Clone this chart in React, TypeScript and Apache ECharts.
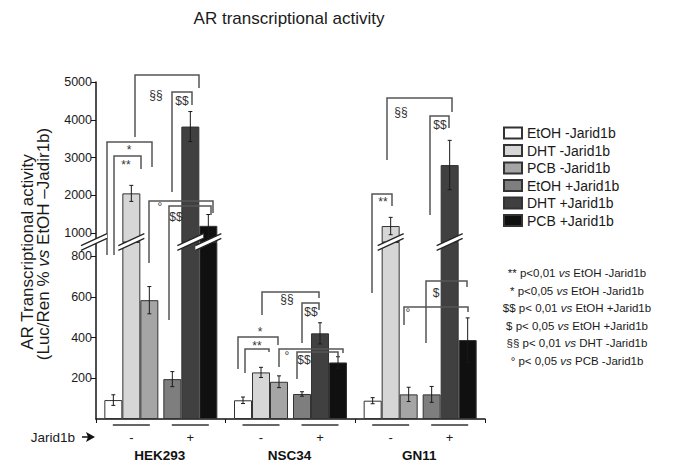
import React, { useEffect, useRef } from 'react';
import * as echarts from 'echarts';

// ---------- data ----------
const cellLines = ['HEK293', 'NSC34', 'GN11'];
const seriesNames = ['EtOH -Jarid1b', 'DHT -Jarid1b', 'PCB -Jarid1b', 'EtOH +Jarid1b', 'DHT +Jarid1b', 'PCB +Jarid1b'];
const etohMinus = [93, 92, 90];
const dhtMinus = [2050, 229, 1185];
const pcbMinus = [584, 183, 121];
const etohPlus = [196, 123, 121];
const dhtPlus = [3820, 421, 2800];
const pcbPlus = [1190, 278, 388];
const etohMinusErr = [26, 16, 15];
const dhtMinusErr = [212, 25, 230];
const pcbMinusErr = [67, 29, 35];
const etohPlusErr = [37, 11, 39];
const dhtPlusErr = [397, 52, 654];
const pcbPlusErr = [300, 28, 109];
const upperTicks = [1000, 2000, 3000, 4000, 5000];
const lowerTicks = [200, 400, 600, 800];
const jaridSigns = ['-', '+'];
const statLines = [
  '** p<0,01 {i|vs} EtOH -Jarid1b',
  '* p<0,05 {i|vs} EtOH -Jarid1b',
  '$$ p< 0,01 {i|vs} EtOH +Jarid1b',
  '$ p< 0,05 {i|vs} EtOH +Jarid1b',
  '§§ p< 0,01 {i|vs} DHT -Jarid1b',
  '° p< 0,05 {i|vs} PCB -Jarid1b',
];

const values = [etohMinus, dhtMinus, pcbMinus, etohPlus, dhtPlus, pcbPlus];
const errors = [etohMinusErr, dhtMinusErr, pcbMinusErr, etohPlusErr, dhtPlusErr, pcbPlusErr];

// ---------- layout / style ----------
const FONT = "'Liberation Sans', Arial, sans-serif";
const colors = ['#ffffff', '#d6d6d6', '#a5a5a5', '#7e7e7e', '#404040', '#101010'];
const GRID_LEFT = 96;
const GRID_W = 389;
const UP_TOP = 82;
const BREAK_Y = 242;
const BASE_Y = 419;
const UPPER_MIN = 762;
const UPPER_MAX = 5000;
const LOWER_MAX = 870;
const BAR_W = 18;
const MID_GAP = 5;
const AXIS_COLOR = '#151515';

const barOffset = (j: number) =>
  -(6 * BAR_W + MID_GAP) / 2 + BAR_W / 2 + BAR_W * j + (j >= 3 ? MID_GAP : 0);

// significance brackets (annotation layout in px)
const brackets = [
  { x1: 135, x2: 199, y: 75, l1: 137, l2: 88, text: '§§', tx: 156, ty: 95 },
  { x1: 172, x2: 192, y: 92, l1: 192, l2: 105, text: '$$', tx: 182, ty: 101 },
  { x1: 107, x2: 152, y: 142, l1: 255, l2: 167, text: '*', tx: 129, ty: 150 },
  { x1: 114, x2: 141, y: 156, l1: 255, l2: 169, text: '**', tx: 126, ty: 165 },
  { x1: 149, x2: 213, y: 201, l1: 263, l2: 213, text: '°', tx: 160, ty: 207 },
  { x1: 169, x2: 211, y: 206, l1: 320, l2: 215, text: '$$', tx: 176, ty: 217 },
  { x1: 262, x2: 319, y: 292, l1: 315, l2: 298, text: '§§', tx: 287, ty: 299 },
  { x1: 302, x2: 319, y: 303, l1: 343, l2: 310, text: '$$', tx: 311, ty: 312 },
  { x1: 238, x2: 278, y: 337, l1: 369, l2: 345, text: '*', tx: 260, ty: 332 },
  { x1: 245, x2: 269, y: 349, l1: 373, l2: 352, text: '**', tx: 257, ty: 346 },
  { x1: 279, x2: 343, y: 349, l1: 367, l2: 353, text: '°', tx: 287, ty: 356 },
  { x1: 297, x2: 338, y: 352, l1: 379, l2: 357, text: '$$', tx: 304, ty: 360 },
  { x1: 387, x2: 452, y: 98, l1: 160, l2: 112, text: '§§', tx: 401, ty: 112 },
  { x1: 430, x2: 449, y: 116, l1: 215, l2: 128, text: '$$', tx: 440, ty: 125 },
  { x1: 372, x2: 392, y: 194, l1: 293, l2: 206, text: '**', tx: 383, ty: 202 },
  { x1: 426, x2: 467, y: 281, l1: 343, l2: 287, text: '$', tx: 436, ty: 293 },
  { x1: 404, x2: 468, y: 307, l1: 325, l2: 312, text: '°', tx: 408, ty: 313 },
];

function buildOption() {
  const series: any[] = [];
  const barStyle = (j: number) => ({
    color: colors[j],
    borderColor: '#333',
    borderWidth: 1,
  });
  const addBars = (grid: number) => {
    for (let j = 0; j < 6; j++) {
      if (j === 3) {
        series.push({
          type: 'bar',
          name: '_gap' + grid,
          xAxisIndex: grid,
          yAxisIndex: grid,
          data: cellLines.map(() => 0),
          barWidth: MID_GAP,
          barGap: '0%',
          silent: true,
          itemStyle: { color: 'rgba(0,0,0,0)', borderWidth: 0 },
        });
      }
      const data =
        grid === 0
          ? values[j].map((v) => (v > LOWER_MAX ? v : '-'))
          : values[j].map((v) => Math.min(v, LOWER_MAX));
      series.push({
        type: 'bar',
        name: seriesNames[j],
        xAxisIndex: grid,
        yAxisIndex: grid,
        data,
        barWidth: BAR_W,
        barGap: '0%',
        z: 2,
        itemStyle: barStyle(j),
      });
    }
  };
  addBars(0);
  addBars(1);

  // error bars
  const errData = (grid: number) => {
    const out: number[][] = [];
    for (let j = 0; j < 6; j++) {
      values[j].forEach((v, i) => {
        const inUpper = v > LOWER_MAX;
        if ((grid === 0) === inUpper) out.push([i, j, v, errors[j][i]]);
      });
    }
    return out;
  };
  const errRender = (params: any, api: any) => {
    const cat = api.value(0);
    const j = api.value(1);
    const v = api.value(2);
    const e = api.value(3);
    const cx = api.coord([cat, v])[0] + barOffset(j);
    const yHi = api.coord([cat, v + e])[1];
    const yLo = api.coord([cat, v - e])[1];
    const st = { stroke: '#1a1a1a', lineWidth: 1 };
    return {
      type: 'group',
      children: [
        { type: 'line', shape: { x1: cx, y1: yHi, x2: cx, y2: yLo }, style: st },
        { type: 'line', shape: { x1: cx - 2, y1: yHi, x2: cx + 2, y2: yHi }, style: st },
        { type: 'line', shape: { x1: cx - 2, y1: yLo, x2: cx + 2, y2: yLo }, style: st },
      ],
    };
  };
  [0, 1].forEach((g) => {
    series.push({
      type: 'custom',
      name: '_err' + g,
      xAxisIndex: g,
      yAxisIndex: g,
      data: errData(g),
      encode: { x: 0, y: 2 },
      renderItem: errRender,
      z: 5,
      silent: true,
      clip: false,
    });
  });

  // break marks across tall bars
  const breakData: number[][] = [];
  for (let j = 0; j < 6; j++) {
    values[j].forEach((v, i) => {
      if (v > LOWER_MAX) breakData.push([i, j]);
    });
  }
  const slash = (cx: number, cy: number) => {
    const dx = 13, dy = 6, h = 2.4;
    return [
      {
        type: 'polygon',
        shape: { points: [[cx - dx, cy + dy - h], [cx + dx, cy - dy - h], [cx + dx, cy - dy + h], [cx - dx, cy + dy + h]] },
        style: { fill: '#ffffff' },
      },
      { type: 'line', shape: { x1: cx - dx, y1: cy + dy - h, x2: cx + dx, y2: cy - dy - h }, style: { stroke: '#222', lineWidth: 1.2 } },
      { type: 'line', shape: { x1: cx - dx, y1: cy + dy + h, x2: cx + dx, y2: cy - dy + h }, style: { stroke: '#222', lineWidth: 1.2 } },
    ];
  };
  series.push({
    type: 'custom',
    name: '_breaks',
    xAxisIndex: 1,
    yAxisIndex: 1,
    data: breakData,
    encode: { x: 0, y: 1 },
    z: 6,
    silent: true,
    clip: false,
    renderItem: (params: any, api: any) => {
      const cat = api.value(0);
      const j = api.value(1);
      const p = api.coord([cat, LOWER_MAX]);
      return { type: 'group', children: slash(p[0] + barOffset(j), p[1]) };
    },
  });

  // graphic annotations
  const graphic: any[] = [];
  graphic.push({
    type: 'text',
    x: 289,
    y: 18,
    z: 100,
    style: { text: 'AR transcriptional activity', fontSize: 17, fontFamily: FONT, fill: '#1a1a1a', align: 'center', verticalAlign: 'middle' },
  });
  graphic.push({
    type: 'text',
    x: 27,
    y: 252,
    rotation: Math.PI / 2,
    z: 100,
    style: { text: 'AR Transcriptional activity', fontSize: 17, fontFamily: FONT, fill: '#1a1a1a', align: 'center', verticalAlign: 'middle' },
  });
  graphic.push({
    type: 'text',
    x: 43.5,
    y: 244,
    rotation: Math.PI / 2,
    z: 100,
    style: {
      text: '(Luc/Ren % {i|vs} EtOH –Jadir1b)',
      fontSize: 17,
      fontFamily: FONT,
      fill: '#1a1a1a',
      align: 'center',
      verticalAlign: 'middle',
      rich: { i: { fontSize: 17, fontFamily: FONT, fontStyle: 'italic', fill: '#1a1a1a' } },
    },
  });
  // axis break mark on y axis
  slash(GRID_LEFT - 2, BREAK_Y).forEach((el) => graphic.push({ ...el, z: 100 }));

  // brackets
  brackets.forEach((b) => {
    graphic.push({
      type: 'polyline',
      z: 90,
      shape: { points: [[b.x1, b.l1], [b.x1, b.y], [b.x2, b.y], [b.x2, b.l2]] },
      style: { stroke: '#555', lineWidth: 1.5, fill: null },
    });
    graphic.push({
      type: 'text',
      x: b.tx,
      y: b.ty,
      z: 91,
      style: { text: b.text, fontSize: 12, fontFamily: FONT, fill: '#333', align: 'center', verticalAlign: 'middle' },
    });
  });

  // x-axis annotations
  const bandW = GRID_W / cellLines.length;
  cellLines.forEach((name, i) => {
    const c = GRID_LEFT + bandW * (i + 0.5);
    [barOffset(1), barOffset(4)].forEach((off, k) => {
      const tc = c + off;
      graphic.push({
        type: 'line',
        z: 100,
        shape: { x1: tc - 18.5, y1: 425, x2: tc + 18.5, y2: 425 },
        style: { stroke: '#333', lineWidth: 1.5 },
      });
      graphic.push({
        type: 'text',
        x: tc,
        y: 437,
        z: 100,
        style: { text: jaridSigns[k], fontSize: 13, fontFamily: FONT, fill: '#1a1a1a', align: 'center', verticalAlign: 'middle' },
      });
    });
    graphic.push({
      type: 'text',
      x: c - 1,
      y: 455,
      z: 100,
      style: { text: name, fontSize: 13.5, fontWeight: 'bold', fontFamily: FONT, fill: '#111', align: 'center', verticalAlign: 'middle' },
    });
  });
  graphic.push({
    type: 'text',
    x: 75,
    y: 437,
    z: 100,
    style: { text: 'Jarid1b', fontSize: 13.5, fontFamily: FONT, fill: '#1a1a1a', align: 'right', verticalAlign: 'middle' },
  });
  graphic.push({
    type: 'polygon',
    z: 100,
    shape: { points: [[86, 432], [95, 437], [86, 442], [88, 437]] },
    style: { fill: '#111' },
  });
  graphic.push({
    type: 'line',
    z: 100,
    shape: { x1: 82, y1: 437, x2: 89, y2: 437 },
    style: { stroke: '#111', lineWidth: 1.5 },
  });

  // statistics key
  statLines.forEach((t, k) => {
    graphic.push({
      type: 'text',
      x: 577,
      y: 273 + k * 17.5,
      z: 100,
      style: {
        text: t,
        fontSize: 11.5,
        fontFamily: FONT,
        fill: '#1a1a1a',
        align: 'center',
        verticalAlign: 'middle',
        rich: { i: { fontSize: 11.5, fontFamily: FONT, fontStyle: 'italic', fill: '#1a1a1a' } },
      },
    });
  });

  const axisLabelStyle = {
    fontSize: 12.5,
    fontFamily: FONT,
    color: '#1a1a1a',
    margin: 4,
    formatter: (v: number) => String(v),
  };

  return {
    animation: false,
    backgroundColor: '#ffffff',
    grid: [
      { left: GRID_LEFT, width: GRID_W, top: UP_TOP, height: BREAK_Y - UP_TOP },
      { left: GRID_LEFT, width: GRID_W, top: BREAK_Y, height: BASE_Y - BREAK_Y },
    ],
    xAxis: [
      { type: 'category', gridIndex: 0, data: cellLines, show: false },
      {
        type: 'category',
        gridIndex: 1,
        data: cellLines,
        axisLine: { lineStyle: { color: AXIS_COLOR, width: 1.5 } },
        axisTick: { show: true, length: 4, lineStyle: { color: AXIS_COLOR } },
        axisLabel: { show: false },
      },
    ],
    yAxis: [
      {
        type: 'value',
        gridIndex: 0,
        min: UPPER_MIN,
        max: UPPER_MAX,
        axisLine: { show: true, lineStyle: { color: AXIS_COLOR, width: 1.5 } },
        axisTick: { show: true, length: 5, customValues: upperTicks, lineStyle: { color: AXIS_COLOR } },
        axisLabel: { ...axisLabelStyle, customValues: upperTicks },
        splitLine: { show: false },
      },
      {
        type: 'value',
        gridIndex: 1,
        min: 0,
        max: LOWER_MAX,
        axisLine: { show: true, lineStyle: { color: AXIS_COLOR, width: 1.5 } },
        axisTick: { show: true, length: 5, customValues: lowerTicks, lineStyle: { color: AXIS_COLOR } },
        axisLabel: { ...axisLabelStyle, customValues: lowerTicks },
        splitLine: { show: false },
      },
    ],
    legend: {
      data: seriesNames,
      orient: 'vertical',
      left: 503,
      top: 126,
      padding: 0,
      itemWidth: 18,
      itemHeight: 11,
      itemGap: 3.5,
      icon: 'rect',
      selectedMode: false,
      textStyle: { fontSize: 14, lineHeight: 14, fontFamily: FONT, color: '#1a1a1a' },
    },
    series,
    graphic,
  };
}

export default function App() {
  const ref = useRef<HTMLDivElement>(null);
  useEffect(() => {
    if (!ref.current) return;
    const chart = echarts.init(ref.current, null, { renderer: 'svg' });
    chart.setOption(buildOption() as any);
    return () => chart.dispose();
  }, []);
  return <div ref={ref} style={{ position: 'fixed', left: 0, top: 0, width: 674, height: 475 }} />;
}
